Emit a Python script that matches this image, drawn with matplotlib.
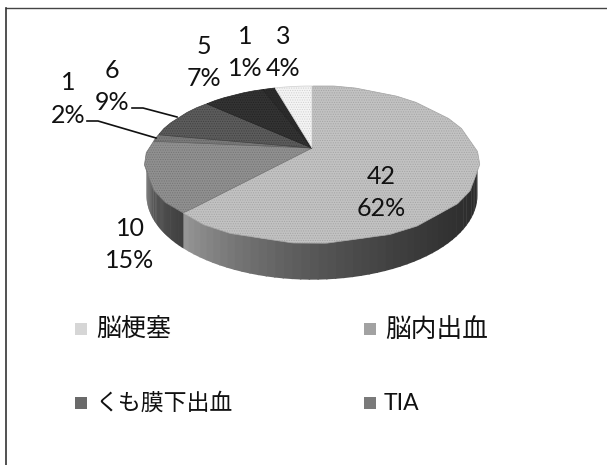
from matplotlib import pyplot as plt
from matplotlib.transforms import Transform
from matplotlib.patches import Rectangle
import numpy as np

# slices go clockwise from 12 o'clock
counts = [42, 10, 1, 6, 5, 1, 3]
percents = ['62%', '15%', '2%', '9%', '7%', '1%', '4%']
categories = ['脳梗塞', '脳内出血', 'くも膜下出血', 'TIA']

top_colors = ['#c2c2c2', '#909090', '#7a7a7a', '#5c5c5c', '#333333', '#2c2c2c', '#f4f4f4']
hatch_colors = ['#a4a4a4', '#747474', '#606060', '#404040', '#222222', '#222222', '#d0d0d0']
legend_colors = ['#d6d6d6', '#a2a2a2', '#6a6a6a', '#7a7a7a']

plt.rcParams['font.family'] = ['Lato', 'Noto Sans CJK JP', 'DejaVu Sans']
plt.rcParams['hatch.linewidth'] = 0.5

# tilted disc: numbers, pixels
CX, CY = 312, 148
BX, AY, K = 162, 74.7, 0.205
DEPTH = 30


class Tilt(Transform):
    input_dims = output_dims = 2

    def transform_non_affine(self, xy):
        xy = np.asarray(xy, dtype=float)
        w = 1 + K * xy[:, 1]
        return np.column_stack([CX + BX * xy[:, 0] / w, CY - AY * xy[:, 1] / w])

    def transform_path_non_affine(self, path):
        p = path.interpolated(20)
        return type(path)(self.transform_non_affine(p.vertices), p.codes)


tilt = Tilt()

fig = plt.figure(figsize=(6.07, 4.65), dpi=100)
ax = fig.add_axes([0, 0, 1, 1])

# side wall, only the front part of the rim shows
edges = np.cumsum([0] + counts) / sum(counts) * 360
vis_from = 90 + np.degrees(np.arcsin(K))
vis_to = 270 - np.degrees(np.arcsin(K))
wall_shades = {0: (0.17, 0.60), 1: (0.25, 0.42)}
for i, (g0, g1) in wall_shades.items():
    a0, a1 = max(edges[i], vis_from), min(edges[i + 1], vis_to)
    steps = np.linspace(a0, a1, 50)
    for s0, s1 in zip(steps[:-1], steps[1:]):
        t = (s0 - a0) / (a1 - a0)
        if i == 0:
            t = t ** 2
        a = np.radians([s0, s1 + 0.4])
        top = tilt.transform_non_affine(np.column_stack([np.sin(a), np.cos(a)]))
        w = 1 + K * np.cos(a)
        low = top + np.column_stack([0 * w, DEPTH / w])
        poly = np.vstack([top, low[::-1]])
        ax.fill(poly[:, 0], poly[:, 1], color=str(g0 + (g1 - g0) * t), lw=0)

wedges, _ = ax.pie(counts, colors=top_colors, startangle=90, counterclock=False)
for w, hc in zip(wedges, hatch_colors):
    w.set_transform(tilt + ax.transData)
    w.set_clip_on(False)
    w.set_edgecolor(hc)
    w.set_linewidth(0.5)
    w.set_hatch('.......')

ax.set_aspect('auto')
ax.set_xlim(0, 607)
ax.set_ylim(465, 0)
ax.axis('off')

# data labels
label_xy = [(381, 176), (130, 228), (68, 83), (112, 70), (204, 47), (245, 37), (283, 37)]
for c, p, (x, y) in zip(counts, percents, label_xy):
    ax.text(x, y, str(c), ha='center', va='center', fontsize=18, color='#111111')
    ax.text(x, y + 32, p, ha='center', va='center', fontsize=18, color='#111111')

# leader lines
ax.plot([87, 98, 156], [121, 121, 138], color='#111111', lw=1.2)
ax.plot([132, 143, 177], [108, 108, 117], color='#111111', lw=1.2)

# legend laid out by hand, 2x2
legend_xy = [(75, 329), (364, 329), (75, 403), (364, 403)]
legend_sizes = [18, 18.5, 16.5, 16.5]
for name, col, fs, (x, y) in zip(categories, legend_colors, legend_sizes, legend_xy):
    ax.add_patch(Rectangle((x, y - 6), 12, 12, color=col, lw=0))
    ax.text(x + (21 if name != 'TIA' else 20), y, name, va='center', ha='left', fontsize=fs, color='#111111')

# only top and left of the frame survive on the scan
ax.plot([6, 607], [8.5, 8.5], color='#444444', lw=1)
ax.plot([6, 6], [8.5, 465], color='#333333', lw=1.2)

fig.savefig('out.png', dpi=100)
